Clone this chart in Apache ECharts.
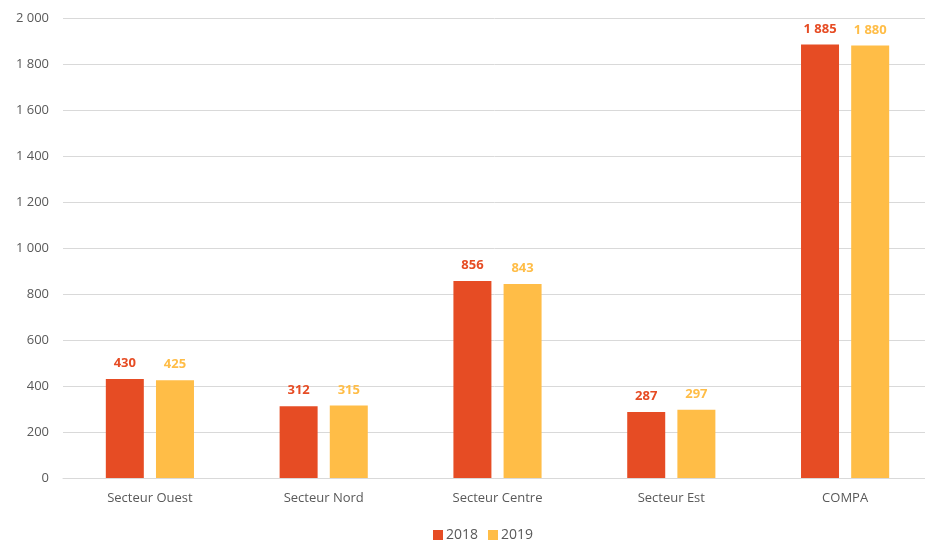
<!DOCTYPE html>
<html>
<head>
<meta charset="utf-8">
<script src="https://cdn.jsdelivr.net/npm/echarts@6/dist/echarts.min.js"></script>
<style>
html,body{margin:0;padding:0;background:#fff;}
#main{width:925px;height:540px;}
</style>
</head>
<body>
<div id="main"></div>
<script>
var categories = ['Secteur Ouest', 'Secteur Nord', 'Secteur Centre', 'Secteur Est', 'COMPA'];
var values2018 = [430, 312, 856, 287, 1885];
var values2019 = [425, 315, 843, 297, 1880];
var yTicks = [0, 200, 400, 600, 800, 1000, 1200, 1400, 1600, 1800, 2000];

function fmt(v){
	return String(v).replace(/\B(?=(\d{3})+(?!\d))/g, ' ');
}

var myChart = echarts.init(document.getElementById('main'));
var font = 'Open Sans';

myChart.setOption({
	animation: false,
	textStyle: {fontFamily: font},
	legend: {
		bottom: -7,
		left: 428,
		itemWidth: 10,
		itemHeight: 10,
		itemGap: 10,
		icon: 'rect',
		textStyle: {color: '#595959', fontSize: 14, fontFamily: font, padding: [0, 0, 0, -2]},
		data: ['2018', '2019']
	},
	grid: {left: 63, top: 18, width: 869, height: 460, outerBoundsMode: 'none'},
	xAxis: {
		type: 'category',
		data: categories,
		axisTick: {show: false},
		axisLine: {lineStyle: {color: '#d9d9d9'}},
		axisLabel: {color: '#595959', fontSize: 13, margin: 14, fontFamily: font}
	},
	yAxis: {
		type: 'value',
		min: yTicks[0],
		max: yTicks[yTicks.length - 1],
		interval: 200,
		axisLine: {show: false},
		axisTick: {show: false},
		splitLine: {lineStyle: {color: '#d9d9d9'}},
		axisLabel: {color: '#595959', fontSize: 13, margin: 14, fontFamily: font, formatter: fmt}
	},
	series: [
		{
			name: '2018',
			type: 'bar',
			data: values2018,
			barWidth: 38,
			barGap: '32%',
			itemStyle: {color: '#E64C24'},
			label: {show: true, position: 'top', distance: 9, color: '#E64C24', fontWeight: 'bold', fontSize: 13, fontFamily: font, formatter: function(p){return fmt(p.value);}}
		},
		{
			name: '2019',
			type: 'bar',
			data: values2019,
			barWidth: 38,
			itemStyle: {color: '#FFBD47'},
			label: {show: true, position: 'top', distance: 9, color: '#FFBD47', fontWeight: 'bold', fontSize: 13, fontFamily: font, formatter: function(p){return fmt(p.value);}}
		}
	]
});
</script>
</body>
</html>
